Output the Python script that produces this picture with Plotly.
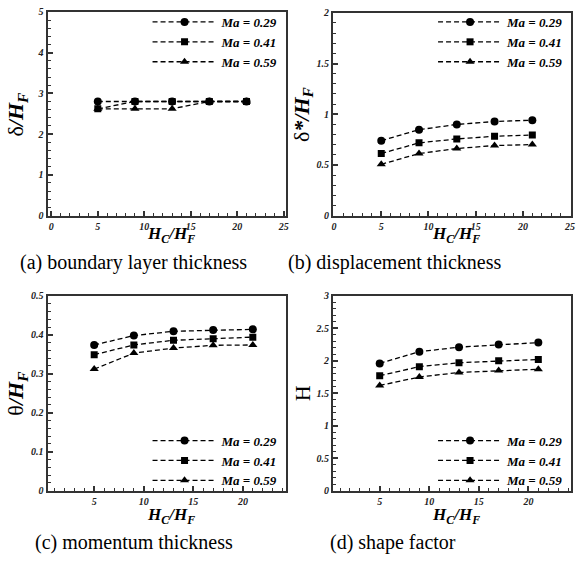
import plotly.graph_objects as go

# ---------------- data ----------------
hc_hf = [5, 9, 13, 17, 21]
series_names = ["Ma = 0.29", "Ma = 0.41", "Ma = 0.59"]
series_symbols = ["circle", "square", "triangle-up"]

# (a) boundary layer thickness delta/H_F
delta_029 = [2.80, 2.80, 2.80, 2.80, 2.80]
delta_041 = [2.62, 2.80, 2.80, 2.80, 2.80]
delta_059 = [2.62, 2.62, 2.62, 2.80, 2.80]

# (b) displacement thickness delta*/H_F
dstar_029 = [0.739, 0.847, 0.899, 0.928, 0.941]
dstar_041 = [0.612, 0.717, 0.756, 0.782, 0.795]
dstar_059 = [0.505, 0.612, 0.661, 0.691, 0.700]

# (c) momentum thickness theta/H_F
theta_029 = [0.374, 0.398, 0.409, 0.412, 0.414]
theta_041 = [0.349, 0.374, 0.386, 0.390, 0.394]
theta_059 = [0.312, 0.353, 0.366, 0.373, 0.374]

# (d) shape factor H
shape_029 = [1.96, 2.14, 2.21, 2.25, 2.28]
shape_041 = [1.77, 1.91, 1.97, 2.00, 2.02]
shape_059 = [1.62, 1.75, 1.82, 1.85, 1.87]

captions = ["(a) boundary layer thickness", "(b) displacement thickness",
            "(c) momentum thickness", "(d) shape factor"]

# ---------------- layout helpers ----------------
W, H = 578, 576
SERIF = "Liberation Serif"

def px_x(p):
    return p / W

def px_y(p):
    return 1 - p / H

panels = [
    dict(ys=[delta_029, delta_041, delta_059], xd=(46, 286), yd=(6, 214),
         xr=[-0.4, 25.2], yr=[0, 5], ydt=1, ymn=0.2, legend="legend"),
    dict(ys=[dstar_029, dstar_041, dstar_059], xd=(334, 574), yd=(7, 214),
         xr=[-0.1, 25.1], yr=[0, 2], ydt=0.5, ymn=0.1, legend="legend2"),
    dict(ys=[theta_029, theta_041, theta_059], xd=(46, 286), yd=(296, 495),
         xr=[0.3, 24.3], yr=[0, 0.5], ydt=0.1, ymn=0.02, legend="legend3"),
    dict(ys=[shape_029, shape_041, shape_059], xd=(334, 574), yd=(296, 495),
         xr=[0.3, 24.3], yr=[0, 3], ydt=0.5, ymn=0.1, legend="legend4"),
]

fig = go.Figure()

tickfont = dict(family=SERIF, size=10, color="#222", weight="bold", style="italic")
AX_COLOR = "#333"

for i, p in enumerate(panels):
    n = "" if i == 0 else str(i + 1)
    for ys, name, sym in zip(p["ys"], series_names, series_symbols):
        fig.add_trace(go.Scatter(
            x=hc_hf, y=ys, name=name, mode="lines+markers",
            xaxis="x" + n, yaxis="y" + n, legend=p["legend"],
            line=dict(color="black", width=1.3, dash="5px,3px"),
            marker=dict(symbol=sym, size=8 if sym != "square" else 7, color="black"),
        ))
    common = dict(showline=True, mirror=True, linecolor=AX_COLOR, linewidth=2,
                  ticks="inside", ticklen=5, tickwidth=1.5, tickcolor=AX_COLOR,
                  showgrid=False, zeroline=False, tickfont=tickfont)
    fig.update_layout(**{
        "xaxis" + n: dict(domain=[px_x(p["xd"][0]), px_x(p["xd"][1])],
                          range=p["xr"], dtick=5, tick0=0, anchor="y" + n,
                          minor=dict(ticks="inside", ticklen=3, dtick=1, tick0=0,
                                     tickcolor=AX_COLOR, tickwidth=1),
                          **common),
        "yaxis" + n: dict(domain=[px_y(p["yd"][1]), px_y(p["yd"][0])],
                          range=p["yr"], dtick=p["ydt"], tick0=0, anchor="x" + n,
                          minor=dict(ticks="inside", ticklen=3, dtick=p["ymn"], tick0=0,
                                     tickcolor=AX_COLOR, tickwidth=1),
                          **common),
    })

legend_font = dict(family=SERIF, size=13, color="black", weight="bold", style="italic")
leg_common = dict(font=legend_font, bgcolor="rgba(0,0,0,0)", itemwidth=64,
                  xanchor="right", itemclick=False, tracegroupgap=0)
fig.update_layout(
    legend=dict(x=px_x(284), y=px_y(1), yanchor="top", **leg_common),
    legend2=dict(x=px_x(572), y=px_y(1), yanchor="top", **leg_common),
    legend3=dict(x=px_x(284), y=px_y(500), yanchor="bottom", **leg_common),
    legend4=dict(x=px_x(572), y=px_y(500), yanchor="bottom", **leg_common),
)

# axis titles & captions
bi = lambda s: "<b><i>%s</i></b>" % s
hf = bi("H") + "<sub>" + bi("F") + "</sub>"
xtitle = bi("H") + "<sub>" + bi("C") + "</sub>" + bi("/H") + "<sub>" + bi("F") + "</sub>"
ytitles = ["δ" + bi("/") + hf, "δ" + bi("*/") + hf, "θ" + bi("/") + hf, "H"]
ytitle_pos = [(15, 110), (303, 110), (15, 395), (303, 395)]
xtitle_pos = [(170, 234), (458, 234), (170, 521), (458, 521)]
caption_pos = [(133, 262), (396, 262), (133, 548), (394, 548)]

for t, (x, y) in zip(ytitles, ytitle_pos):
    fig.add_annotation(text=t, x=px_x(x), y=px_y(y), xref="paper", yref="paper",
                       xanchor="center", yanchor="middle",
                       showarrow=False, textangle=-90,
                       font=dict(family=SERIF, size=22, color="black"))
for (x, y) in xtitle_pos:
    fig.add_annotation(text=xtitle, x=px_x(x), y=px_y(y), xref="paper", yref="paper",
                       xanchor="center", yanchor="middle",
                       showarrow=False, font=dict(family=SERIF, size=17, color="black"))
for c, (x, y) in zip(captions, caption_pos):
    fig.add_annotation(text=c, x=px_x(x), y=px_y(y), xref="paper", yref="paper",
                       xanchor="center", yanchor="middle",
                       showarrow=False, font=dict(family=SERIF, size=20, color="black"))

fig.update_layout(width=W, height=H, margin=dict(l=0, r=0, t=0, b=0),
                  paper_bgcolor="white", plot_bgcolor="white", showlegend=True)

fig.write_html("out.html", config={"displayModeBar": False},
               post_script="document.body.style.margin='0';")
